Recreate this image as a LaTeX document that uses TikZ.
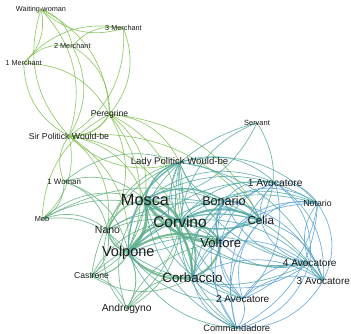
\documentclass[tikz,border=0pt]{standalone}
\usepackage{fontspec}
\setmainfont{Liberation Sans}
\usetikzlibrary{backgrounds}
\definecolor{cg}{HTML}{84C255}
\definecolor{cgt}{HTML}{64B282}
\definecolor{ct}{HTML}{55A9A2}
\definecolor{cb}{HTML}{5BA3D3}
\definecolor{txt}{HTML}{1A1A1A}
\newcommand\fs[1]{\fontsize{#1}{#1}\selectfont}
\pgfdeclarelayer{edges}
\pgfsetlayers{edges,main}
\begin{document}
\begin{tikzpicture}[x=1pt,y=-1pt,
  lbl/.style={inner sep=0pt,text=txt},
  edge/.style={draw opacity=0.85,line cap=round}]
\useasboundingbox (0,0) rectangle (351,333);
% nodes
\node[lbl,font=\fs{7.3}] (ww) at (41,9.3) {Waiting-woman};
\node[lbl,font=\fs{7.3}] (m3) at (123.5,28.3) {3 Merchant};
\node[lbl,font=\fs{7.3}] (m2) at (72.3,46.3) {2 Merchant};
\node[lbl,font=\fs{7.2}] (m1) at (23.7,63.3) {1 Merchant};
\node[lbl,font=\fs{8.6}] (per) at (109.5,114.3) {Peregrine};
\node[lbl,font=\fs{8.7}] (sirp) at (69,136) {Sir Politick Would-be};
\node[lbl,font=\fs{9.6}] (ladyp) at (179.5,162.3) {Lady Politick Would-be};
\node[lbl,font=\fs{7.5}] (serv) at (257,122.7) {Servant};
\node[lbl,font=\fs{7.9}] (w1) at (64.2,181.7) {1 Woman};
\node[lbl,font=\fs{7.4}] (mob) at (42,219.3) {Mob};
\node[lbl,font=\fs{10.3}] (av1) at (275.2,182.7) {1 Avocatore};
\node[lbl,font=\fs{16.3}] (mosca) at (145,200) {Mosca};
\node[lbl,font=\fs{12.6}] (bon) at (224,200.7) {Bonario};
\node[lbl,font=\fs{8.8}] (notario) at (317.5,203.3) {Notario};
\node[lbl,font=\fs{15.5}] (corv) at (180,221.5) {Corvino};
\node[lbl,font=\fs{10.5}] (nano) at (107.5,230.3) {Nano};
\node[lbl,font=\fs{11.6}] (celia) at (260.8,220.7) {Celia};
\node[lbl,font=\fs{14.5}] (volp) at (128.3,252.7) {Volpone};
\node[lbl,font=\fs{13.1}] (volt) at (220.8,242.7) {Voltore};
\node[lbl,font=\fs{8.6}] (cast) at (91.5,276) {Castrone};
\node[lbl,font=\fs{13.4}] (corb) at (192.5,277.3) {Corbaccio};
\node[lbl,font=\fs{10.1}] (av4) at (309.7,262.7) {4 Avocatore};
\node[lbl,font=\fs{10}] (av3) at (323.3,280.7) {3 Avocatore};
\node[lbl,font=\fs{10}] (av2) at (242.7,298.7) {2 Avocatore};
\node[lbl,font=\fs{10.3}] (andr) at (126.7,309) {Androgyno};
\node[lbl,font=\fs{9.3}] (com) at (236.7,328.2) {Commandadore};
% edges
\begin{pgfonlayer}{edges}
\foreach \a/\b/\c/\w in {
  ww/m1/cg/0.7, ww/m2/cg/0.7, m3/ww/cg/0.7, ww/per/cg/0.7, ww/sirp/cg/0.7,
  sirp/ww/cg/0.7, m1/m2/cg/0.7, m1/m3/cg/0.7, m1/per/cg/0.7, sirp/m1/cg/0.7,
  m2/m3/cg/0.7, m2/per/cg/0.7, m2/sirp/cg/0.7, m3/per/cg/0.7, m3/sirp/cg/0.7,
  per/sirp/cg/1.2,
  sirp/volp/cg/0.7, sirp/nano/cg/0.7, sirp/mob/cg/0.7, sirp/mosca/cg/0.7,
  sirp/corv/cg/0.7, sirp/celia/cg/0.7, ladyp/sirp/cg/0.7,
  per/volp/cg/0.7, per/nano/cg/0.7, mob/per/cg/0.7, per/mosca/cg/0.7,
  per/corv/cg/0.7, per/celia/cg/0.7, per/ladyp/cg/0.7,
  mob/volp/cgt/0.7, mob/nano/cgt/0.7, mob/mosca/cgt/0.7, mob/corv/cgt/0.7,
  mob/celia/cgt/0.7, w1/mob/cgt/0.7,
  w1/ladyp/cgt/0.7, w1/volp/cgt/0.7, w1/nano/cgt/0.7, w1/mosca/cgt/0.7, w1/sirp/cg/0.7,
  mosca/volp/cgt/3, mosca/corv/cgt/2.6, volt/mosca/cgt/2.4, mosca/corb/cgt/2.4,
  volp/corv/cgt/2, volp/volt/cgt/2, corb/volp/cgt/2, volt/corb/cgt/2,
  corv/volt/cgt/1.8, corv/corb/cgt/1.8, volp/nano/cgt/1.4, nano/mosca/cgt/1.2,
  volp/cast/cgt/1, volp/andr/cgt/1, mosca/cast/cgt/0.7, andr/mosca/cgt/0.7,
  nano/cast/cgt/0.7, andr/nano/cgt/0.7, cast/andr/cgt/0.7, cast/volt/cgt/0.7,
  corb/cast/cgt/0.7, cast/corv/cgt/0.7, andr/volt/cgt/0.7, andr/corb/cgt/0.7,
  corv/andr/cgt/0.7, nano/volt/cgt/0.7, corb/nano/cgt/0.7, nano/corv/cgt/0.7,
  nano/ladyp/cgt/0.7, cast/ladyp/cgt/0.7, ladyp/andr/cgt/0.7,
  corv/celia/ct/2, bon/celia/ct/1.6, mosca/bon/ct/1.4, celia/mosca/ct/1.4,
  mosca/ladyp/ct/1.4, volp/ladyp/ct/1.4, volp/celia/ct/1.2, bon/volp/ct/0.7,
  volt/bon/ct/1.2, volt/celia/ct/0.7, volt/ladyp/ct/0.7, corb/bon/ct/1.2,
  corb/celia/ct/0.7, corb/ladyp/ct/0.7, corv/bon/ct/0.7, corv/ladyp/ct/0.7,
  bon/ladyp/ct/0.7, ladyp/celia/ct/0.7, nano/celia/ct/0.7,
  serv/mosca/ct/0.7, corv/serv/ct/0.7, serv/celia/ct/0.7, volp/serv/ct/0.7,
  av1/av2/cb/0.7, av1/av3/cb/0.7, av1/av4/cb/0.7, av1/notario/cb/0.7, com/av1/cb/0.7,
  av2/av3/cb/0.7, av2/av4/cb/0.7, notario/av2/cb/0.7, av2/com/cb/0.7, av3/av4/cb/0.7,
  notario/av3/cb/0.7, av3/com/cb/0.7, av4/notario/cb/0.7, av4/com/cb/0.7, notario/com/cb/0.7}
  {\draw[edge,draw=\c,line width=\w pt] (\a.center) to[bend left=30] (\b.center);}
\foreach \x/\d in {av1/30,av2/-30,av3/30,av4/-30,notario/30,com/-30}
  \foreach \y/\c in {volt/cb,corb/cb,corv/ct,bon/cb,celia/cb,mosca/ct,volp/ct,ladyp/ct}
  {\draw[edge,draw=\c,line width=0.7pt] (\y.center) to[bend left=\d] (\x.center);}
\end{pgfonlayer}
\end{tikzpicture}
\end{document}
